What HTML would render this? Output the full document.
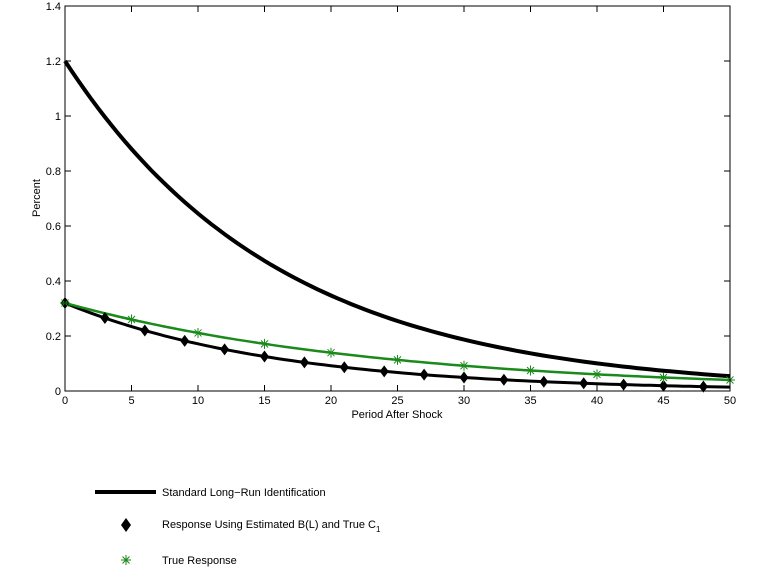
<!DOCTYPE html>
<html><head><style>body{margin:0;background:#fff}svg{display:block;font-family:"Liberation Sans",sans-serif}</style></head>
<body>
<svg id="s" width="778" height="579" xmlns="http://www.w3.org/2000/svg">
<rect width="778" height="579" fill="#fff"/>
<g id="g"></g>
<rect x="65" y="6" width="665" height="385" fill="none" stroke="#000" stroke-width="1"/>
<text x="40" y="198" font-size="11" transform="rotate(-90 40 198)" text-anchor="middle">Percent</text>
<text x="397" y="418" font-size="11" text-anchor="middle">Period After Shock</text>
<line x1="95" y1="492" x2="156" y2="492" stroke="#000" stroke-width="4"/>
<text x="162" y="496" font-size="11">Standard Long−Run Identification</text>
<polygon points="126,518 131,525 126,532 121,525" fill="#000"/>
<text x="162" y="528" font-size="11">Response Using Estimated B(L) and True C<tspan font-size="8" dy="4">1</tspan></text>
<g stroke="#1a8a1a" stroke-width="1"><line x1="121" y1="560" x2="131" y2="560"/><line x1="126" y1="555" x2="126" y2="565"/><line x1="122.5" y1="556.5" x2="129.5" y2="563.5"/><line x1="129.5" y1="556.5" x2="122.5" y2="563.5"/></g>
<text x="162" y="564" font-size="11">True Response</text>
</svg>
<script>
var g=document.getElementById('g'),h='';
function X(t){return 65+t*13.3}function Y(v){return 391-v*275}
for(var i=0;i<=7;i++){var v=i*0.2,y=Y(v);h+='<line x1="65" y1="'+y+'" x2="71" y2="'+y+'" stroke="#000"/><line x1="724" y1="'+y+'" x2="730" y2="'+y+'" stroke="#000"/><text x="61" y="'+(y+4)+'" font-size="11" text-anchor="end">'+(i==0?'0':(+v.toFixed(1)))+'</text>';}
for(var t=0;t<=50;t+=5){var x=X(t);h+='<line x1="'+x+'" y1="391" x2="'+x+'" y2="385" stroke="#000"/><line x1="'+x+'" y1="6" x2="'+x+'" y2="12" stroke="#000"/><text x="'+x+'" y="404" font-size="11" text-anchor="middle">'+t+'</text>';}
function path(a,k,w,c){var p='';for(var t=0;t<=50;t+=0.5)p+=(t?'L':'M')+X(t).toFixed(1)+' '+Y(a*Math.exp(-k*t)).toFixed(1);return '<path d="'+p+'" fill="none" stroke="'+c+'" stroke-width="'+w+'"/>';}
h+=path(0.32,0.0624,3,'#000');
h+=path(0.32,0.0416,2.5,'#1a8a1a');
h+=path(1.2,0.062,4,'#000');
for(var t=0;t<=48;t+=3){var x=X(t),y=Y(0.32*Math.exp(-0.0624*t));h+='<polygon points="'+x+','+(y-6)+' '+(x+4.5)+','+y+' '+x+','+(y+6)+' '+(x-4.5)+','+y+'" fill="#000"/>';}
for(var t=0;t<=50;t+=5){var x=X(t),y=Y(0.32*Math.exp(-0.0416*t));h+='<g stroke="#1a8a1a"><line x1="'+(x-5)+'" y1="'+y+'" x2="'+(x+5)+'" y2="'+y+'"/><line x1="'+x+'" y1="'+(y-5)+'" x2="'+x+'" y2="'+(y+5)+'"/><line x1="'+(x-3.5)+'" y1="'+(y-3.5)+'" x2="'+(x+3.5)+'" y2="'+(y+3.5)+'"/><line x1="'+(x+3.5)+'" y1="'+(y-3.5)+'" x2="'+(x-3.5)+'" y2="'+(y+3.5)+'"/></g>';}
g.innerHTML=h;
</script>
</body></html>
